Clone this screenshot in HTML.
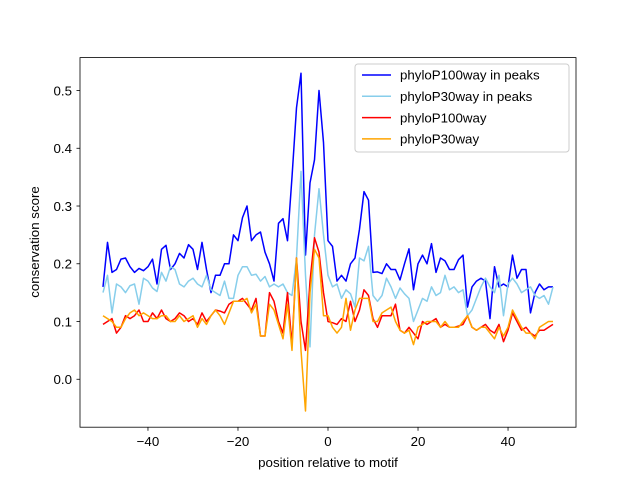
<!DOCTYPE html>
<html><head><meta charset="utf-8"><style>
body{margin:0;background:#fff}
svg{font-family:"Liberation Sans","DejaVu Sans",sans-serif}
</style></head><body>
<svg id="chart" width="640" height="480" viewBox="0 0 640 480" xmlns="http://www.w3.org/2000/svg">
<rect width="640" height="480" fill="#fff"/>
<g id="series"></g>
<rect x="80" y="57.6" width="496" height="369.6" fill="none" stroke="#000" stroke-width="0.8"/>
<g id="ticks"></g>
<text x="328" y="467" font-size="13.3" text-anchor="middle">position relative to motif</text>
<text transform="translate(39,242) rotate(-90)" font-size="13.3" text-anchor="middle">conservation score</text>
<g>
<rect x="355" y="64" width="214" height="88" rx="3" fill="#fff" fill-opacity="0.8" stroke="#ccc"/>
<g id="legend-entries"></g>
</g>
</svg>
<script>
const xs=[];for(let i=-50;i<=50;i++)xs.push(i);
const p100peaks=[.16,.237,.185,.19,.208,.21,.195,.185,.192,.188,.195,.208,.165,.225,.232,.19,.2,.218,.21,.233,.225,.19,.237,.19,.15,.18,.18,.2,.2,.25,.24,.28,.3,.24,.25,.255,.22,.2,.17,.27,.278,.24,.35,.47,.53,.215,.34,.38,.5,.41,.24,.23,.17,.18,.17,.2,.21,.26,.325,.31,.185,.186,.183,.2,.19,.19,.172,.2,.226,.155,.2,.215,.2,.235,.185,.21,.205,.19,.19,.207,.215,.125,.16,.17,.175,.17,.105,.195,.16,.165,.16,.215,.175,.19,.19,.115,.15,.165,.155,.16,.16];
const p30peaks=[.15,.18,.115,.165,.16,.15,.162,.165,.13,.175,.17,.158,.152,.185,.17,.195,.19,.165,.16,.17,.175,.165,.16,.18,.155,.15,.145,.17,.14,.14,.18,.195,.195,.18,.182,.17,.178,.16,.165,.16,.165,.15,.145,.21,.36,.18,.056,.25,.33,.25,.18,.16,.165,.14,.155,.148,.125,.21,.205,.23,.145,.135,.145,.175,.16,.14,.158,.148,.14,.1,.12,.14,.135,.16,.145,.15,.18,.155,.16,.15,.155,.11,.12,.14,.16,.175,.16,.15,.18,.11,.165,.175,.165,.15,.155,.16,.145,.14,.145,.13,.16];
const p100=[.095,.1,.105,.08,.09,.11,.105,.11,.12,.1,.1,.115,.105,.12,.105,.1,.105,.115,.11,.1,.105,.095,.115,.1,.11,.12,.118,.115,.13,.135,.135,.14,.13,.12,.14,.075,.075,.15,.135,.1,.08,.15,.06,.21,.1,.05,.17,.245,.22,.15,.1,.098,.095,.105,.1,.135,.1,.12,.155,.145,.105,.09,.11,.11,.11,.13,.085,.08,.09,.08,.07,.1,.095,.1,.105,.09,.095,.09,.09,.092,.095,.11,.09,.085,.09,.095,.085,.08,.095,.065,.085,.115,.1,.085,.09,.08,.075,.085,.085,.09,.095];
const p30=[.11,.105,.1,.09,.09,.105,.115,.12,.11,.115,.11,.105,.105,.11,.11,.1,.1,.11,.1,.105,.11,.09,.105,.095,.11,.12,.11,.095,.115,.135,.135,.135,.14,.115,.13,.075,.075,.13,.12,.095,.07,.13,.05,.21,.05,-.055,.15,.225,.21,.11,.11,.09,.08,.09,.14,.085,.12,.14,.14,.14,.1,.1,.115,.12,.125,.1,.085,.08,.085,.06,.09,.095,.1,.1,.1,.09,.1,.09,.09,.09,.1,.11,.09,.085,.09,.09,.08,.07,.09,.075,.09,.12,.105,.09,.08,.08,.07,.09,.095,.1,.1];
const labels=["phyloP100way in peaks","phyloP30way in peaks","phyloP100way","phyloP30way"];
const colors=["#0000ff","#87ceeb","#ff0000","#ffa500"];
const xTicks=[-40,-20,0,20,40];
const yTicks=[0.0,0.1,0.2,0.3,0.4,0.5];
const NS="http://www.w3.org/2000/svg";
const X=v=>80+(v+55.1)/110.2*496;
const Y=v=>427.2-(v+0.083)/0.64*369.6;
const g=document.getElementById('series');
const names=['line-p100-peaks','line-p30-peaks','line-p100','line-p30'];
[p100peaks,p30peaks,p100,p30].forEach((s,k)=>{
 const p=document.createElementNS(NS,'polyline');
 p.setAttribute('points',s.map((v,i)=>X(xs[i]).toFixed(1)+','+Y(v).toFixed(1)).join(' '));
 p.setAttribute('fill','none');p.setAttribute('stroke',colors[k]);p.setAttribute('stroke-width','1.5');p.setAttribute('stroke-linejoin','round');
 
 
 g.appendChild(p);
});
const t=document.getElementById('ticks');
xTicks.forEach(v=>{
 const l=document.createElementNS(NS,'line');
 l.setAttribute('x1',X(v));l.setAttribute('x2',X(v));l.setAttribute('y1',427.2);l.setAttribute('y2',430.7);l.setAttribute('stroke','#000');l.setAttribute('stroke-width','0.8');
 
 
 t.appendChild(l);
 const tx=document.createElementNS(NS,'text');
 tx.setAttribute('x',X(v));tx.setAttribute('y',446);tx.setAttribute('font-size','13.3');tx.setAttribute('text-anchor','middle');
 tx.textContent=(v<0?'\u2212'+(-v):String(v));
 
 
 t.appendChild(tx);
});
yTicks.forEach(v=>{
 const l=document.createElementNS(NS,'line');
 l.setAttribute('x1',76.5);l.setAttribute('x2',80);l.setAttribute('y1',Y(v));l.setAttribute('y2',Y(v));l.setAttribute('stroke','#000');l.setAttribute('stroke-width','0.8');
 
 
 t.appendChild(l);
 const tx=document.createElementNS(NS,'text');
 tx.setAttribute('x',72);tx.setAttribute('y',Y(v)+4.8);tx.setAttribute('font-size','13.3');tx.setAttribute('text-anchor','end');
 tx.textContent=v.toFixed(1);
 
 
 t.appendChild(tx);
});
const le=document.getElementById('legend-entries');
labels.forEach((lab,k)=>{
 const y=75+k*21.3;
 const l=document.createElementNS(NS,'line');
 l.setAttribute('x1',362);l.setAttribute('x2',391);l.setAttribute('y1',y);l.setAttribute('y2',y);l.setAttribute('stroke',colors[k]);l.setAttribute('stroke-width','1.5');
 
 
 le.appendChild(l);
 const tx=document.createElementNS(NS,'text');
 tx.setAttribute('x',400);tx.setAttribute('y',y+4.7);tx.setAttribute('font-size','13.3');
 tx.textContent=lab;
 
 
 le.appendChild(tx);
});
</script>
</body></html>
